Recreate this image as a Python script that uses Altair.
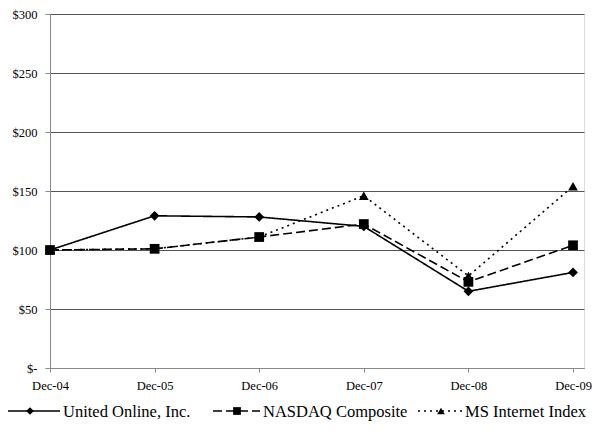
import altair as alt
import pandas as pd

months = ["Dec-04", "Dec-05", "Dec-06", "Dec-07", "Dec-08", "Dec-09"]
series_names = ["United Online, Inc.", "NASDAQ Composite", "MS Internet Index"]
united_online = [100, 129, 128, 120, 65, 81]
nasdaq = [100, 101, 111, 122, 73, 104]
ms_internet = [100, 101, 111, 146, 78, 154]
y_ticks = [0, 50, 100, 150, 200, 250, 300]

values = [united_online, nasdaq, ms_internet]
rows = []
for name, vals in zip(series_names, values):
    for i, v in enumerate(vals):
        rows.append({"series": name, "idx": i, "value": v})
df = pd.DataFrame(rows)

FONT = "Liberation Serif, Times New Roman, serif"
dash_scale = alt.Scale(domain=series_names, range=[[1, 0], [9, 4], [2, 4]])
shape_scale = alt.Scale(domain=series_names, range=["diamond", "square", "triangle-up"])

label_expr = "[" + ",".join(f"'{m}'" for m in months) + "][datum.value]"

x_enc = alt.X("idx:Q",
              scale=alt.Scale(domain=[0, 5.105], nice=False, zero=False),
              axis=alt.Axis(values=list(range(len(months))), labelExpr=label_expr,
                            title=None, grid=False, tickSize=4, labelPadding=7,
                            labelFlush=False, labelFont=FONT, labelFontSize=12.5,
                            labelColor="black"))
y_enc = alt.Y("value:Q",
              scale=alt.Scale(domain=[0, 300], nice=False),
              axis=alt.Axis(values=y_ticks, title=None, grid=True,
                            labelExpr="datum.value == 0 ? '$-' : '$' + datum.value",
                            tickSize=5, labelPadding=8, gridColor="#555555",
                            gridWidth=1.2, labelFont=FONT, labelFontSize=12.5,
                            labelColor="black"))

lines = alt.Chart(df).mark_line(color="black", strokeWidth=1.6).encode(
    x=x_enc, y=y_enc,
    strokeDash=alt.StrokeDash("series:N", scale=dash_scale, legend=None),
    detail="series:N",
)
points = alt.Chart(df).mark_point(filled=True, color="black", opacity=1, size=95).encode(
    x=x_enc, y=y_enc,
    shape=alt.Shape("series:N", scale=shape_scale, legend=None),
)

# manual legend below plot (pixel positions relative to plot origin)
leg = pd.DataFrame({
    "series": series_names,
    "x1": [-50, 163, 368],
    "x2": [10, 210, 412],
    "xm": [-20, 187, 391],
    "xt": [13, 213, 415],
})
LEG_Y = 397
leg_lines = alt.Chart(leg).mark_rule(color="black", strokeWidth=1.6).encode(
    x=alt.X("x1:Q", scale=None), x2="x2:Q", y=alt.value(LEG_Y),
    strokeDash=alt.StrokeDash("series:N", scale=dash_scale, legend=None),
)
leg_pts = alt.Chart(leg).mark_point(filled=True, color="black", opacity=1, size=60).encode(
    x=alt.X("xm:Q", scale=None), y=alt.value(LEG_Y),
    shape=alt.Shape("series:N", scale=shape_scale, legend=None),
)
leg_text = alt.Chart(leg).mark_text(align="left", baseline="middle", font=FONT,
                                    fontSize=16.5, color="black", dy=1).encode(
    x=alt.X("xt:Q", scale=None), y=alt.value(LEG_Y), text="series:N",
)

chart = alt.layer(lines, points, leg_lines, leg_pts, leg_text).properties(
    width=534, height=354,
    autosize=alt.AutoSizeParams(type="none"),
    padding={"left": 42, "top": 6, "right": 12, "bottom": 57},
).configure_view(
    stroke="#333333", strokeWidth=1.2
).configure_axis(
    labelFont=FONT, labelFontSize=12.5, labelColor="black",
    tickColor="black", domainColor="black", domainWidth=1.5, tickWidth=1.2,
).configure(background="white", font=FONT)

chart.save("out.html", embed_options={"renderer": "svg", "actions": False})
